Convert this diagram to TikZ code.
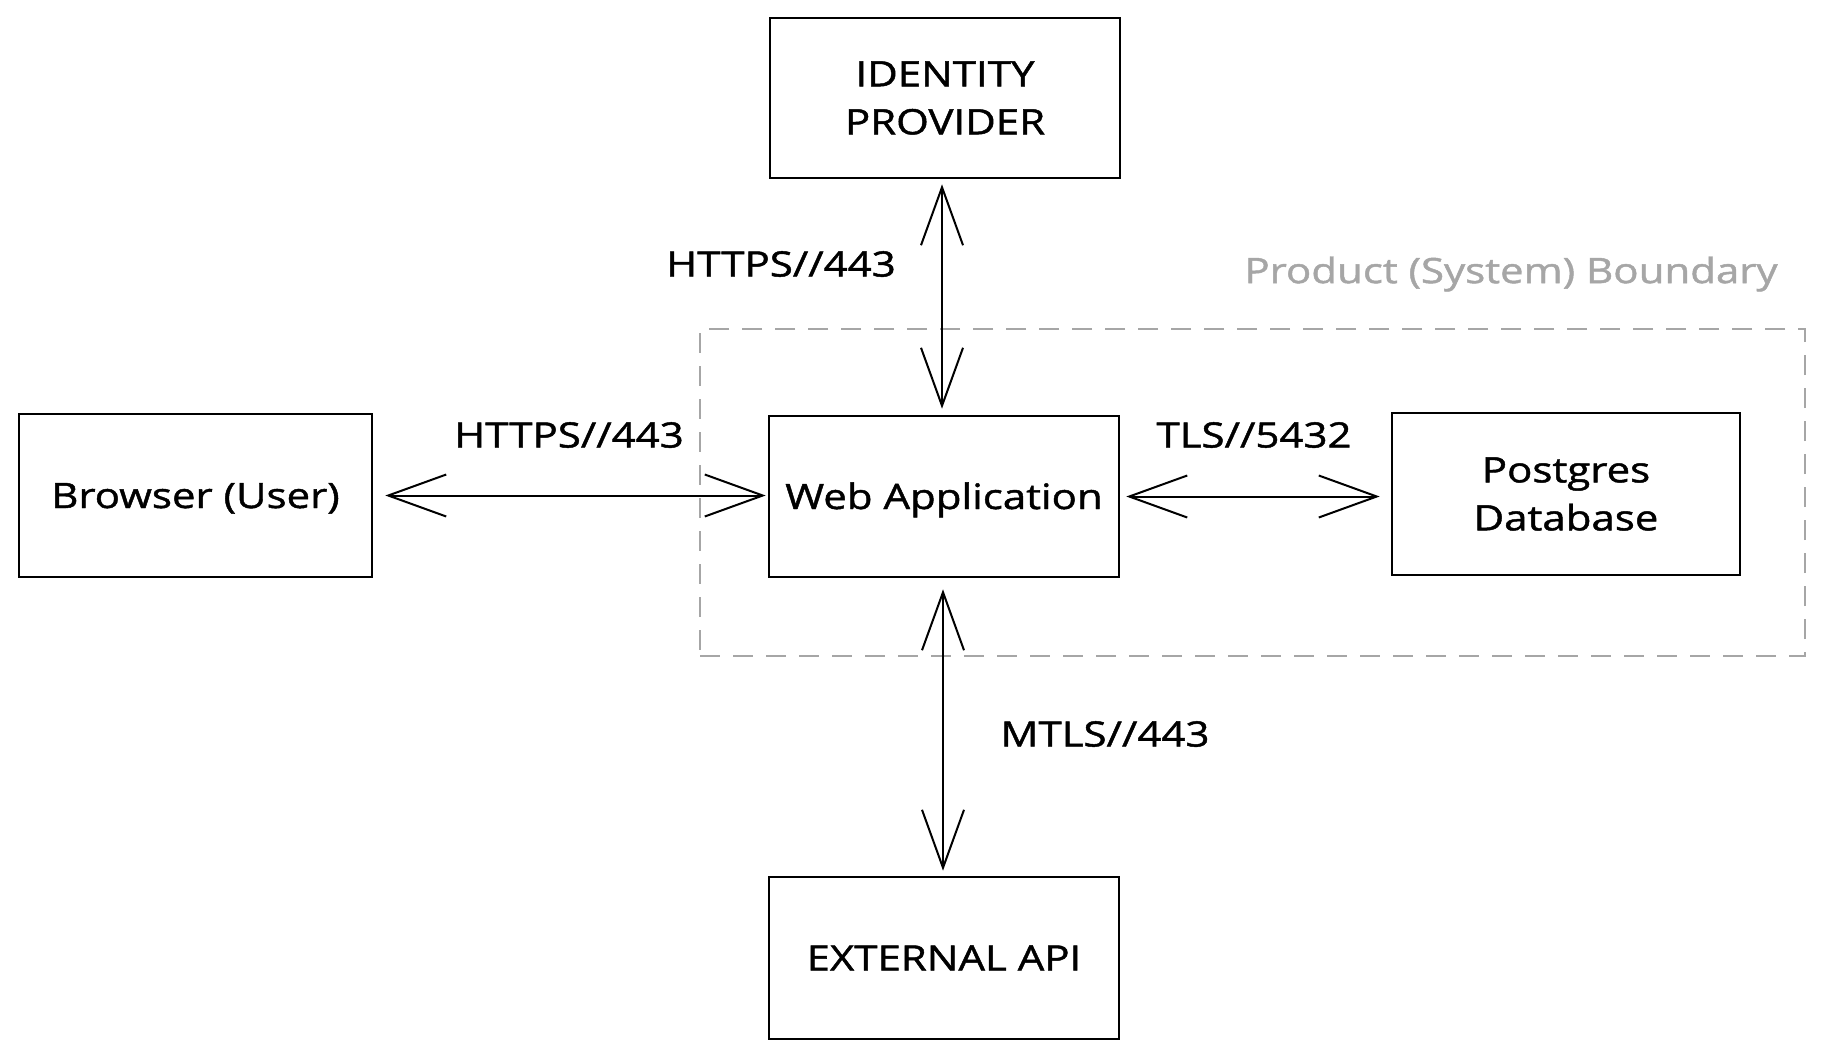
\documentclass[tikz,border=0pt]{standalone}
\usepackage{fontspec}
\setmainfont[FakeStretch=1.2,FakeBold=1.3]{Open Sans}
\usetikzlibrary{arrows.meta}
\definecolor{bndgray}{HTML}{A6A6A6}
\tikzset{
  box/.style={draw=black, line width=2.6pt, fill=white, rectangle, inner sep=0pt,
    align=center, font=\fontsize{35}{48}\selectfont},
  onebox/.style={box, text height=27pt, text depth=2pt},
  lbl/.style={font=\fontsize{35}{48}\selectfont, inner sep=0pt},
  biarrow/.style={line width=2pt, draw=black,
    {Straight Barb[length=58pt,width=42pt,line width=2pt]}-{Straight Barb[length=58pt,width=42pt,line width=2pt]}},
  boundary/.style={draw=bndgray, line width=2.6pt, dash pattern=on 20pt off 13pt, rectangle, inner sep=0pt}
}
\begin{document}
\begin{tikzpicture}[x=1pt,y=-1pt]
\useasboundingbox[fill=white] (0,0) rectangle (1827,1061);
% boundary
\node[boundary, minimum width=1105pt, minimum height=327pt] (bnd) at (1252.5,492.5) {};
\node[lbl, text=bndgray] (bndlabel) at (1511,274) {Product (System) Boundary};
% boxes
\node[box, minimum width=350pt, minimum height=160pt] (idp) at (945,98) {IDENTITY\\PROVIDER};
\node[onebox, minimum width=353pt, minimum height=163pt] (browser) at (195.5,495.5) {Browser (User)};
\node[onebox, minimum width=350pt, minimum height=161pt] (web) at (944,496.5) {Web Application};
\node[box, minimum width=348pt, minimum height=162pt] (db) at (1566,494) {Postgres\\Database};
\node[onebox, minimum width=350pt, minimum height=162pt] (ext) at (944,958) {EXTERNAL API};
% connectors
\draw[biarrow] ([xshift=-3pt,yshift=-5pt]idp.south) -- ([xshift=-2pt,yshift=6pt]web.north);
\draw[biarrow] ([xshift=12pt]browser.east) -- ([xshift=-2pt]web.west |- browser.east);
\draw[biarrow] ([xshift=6pt]web.east) -- ([xshift=-11pt]db.west |- web.east);
\draw[biarrow] ([xshift=-1pt,yshift=-11pt]web.south) -- ([xshift=-1pt,yshift=5pt]ext.north);
% labels
\node[lbl] (l1) at (781,264) {HTTPS//443};
\node[lbl] (l2) at (569,435) {HTTPS//443};
\node[lbl] (l3) at (1254,435) {TLS//5432};
\node[lbl] (l4) at (1105,734) {MTLS//443};
\end{tikzpicture}
\end{document}
